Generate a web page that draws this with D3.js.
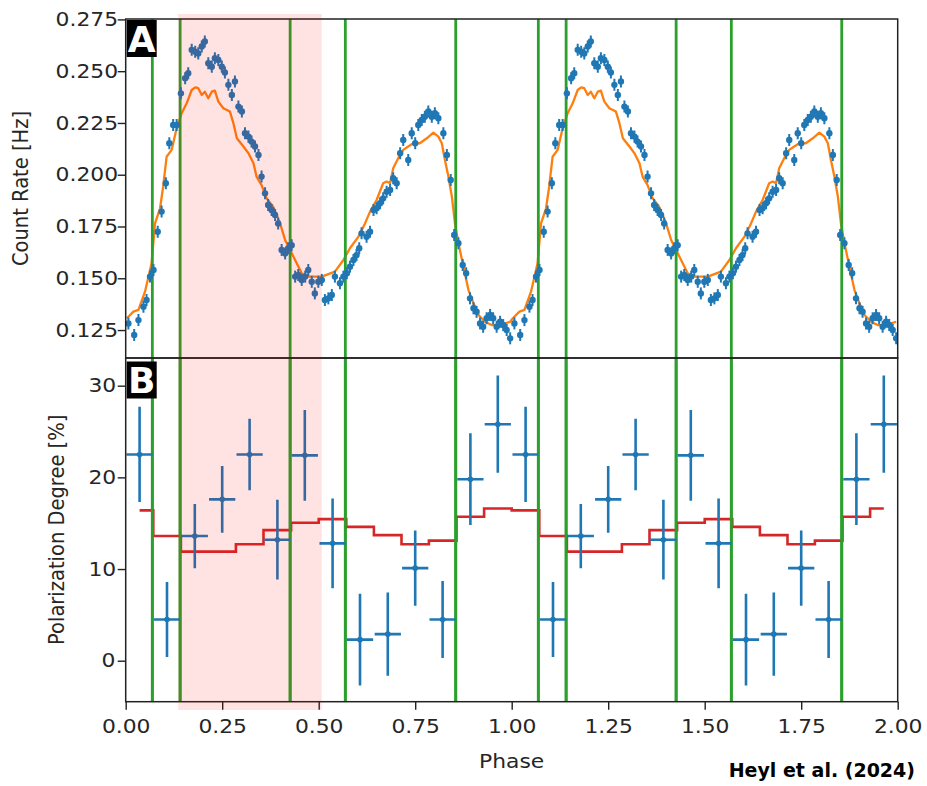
<!DOCTYPE html>
<html>
<head>
<meta charset="utf-8">
<script src="https://cdn.jsdelivr.net/npm/d3@7/dist/d3.min.js"></script>
<style>
  html, body { margin: 0; padding: 0; background: #fff; }
  svg { display: block; }
  text { font-family: "DejaVu Sans", sans-serif; fill: #262626; }
</style>
</head>
<body>
<svg id="chart" width="927" height="786"></svg>
<script>
// ---------- DATA ----------
// Panel A: observed count rate (one phase cycle, plotted twice)
const phaseCR = [0.007,0.022,0.033,0.046,0.054,0.063,0.072,0.083,0.093,0.104,0.113,0.123,0.132,0.143,0.154,0.162,0.171,0.180,0.188,0.197,0.205,0.214,0.223,0.231,0.240,0.249,0.257,0.266,0.275,0.283,0.292,0.301,0.309,0.318,0.326,0.335,0.344,0.352,0.361,0.369,0.378,0.387,0.395,0.404,0.413,0.421,0.430,0.439,0.447,0.456,0.465,0.473,0.482,0.490,0.499,0.508,0.516,0.525,0.534,0.542,0.555,0.564,0.573,0.581,0.590,0.598,0.605,0.611,0.624,0.633,0.642,0.650,0.659,0.667,0.676,0.685,0.693,0.702,0.711,0.719,0.732,0.741,0.750,0.758,0.767,0.775,0.784,0.793,0.801,0.810,0.823,0.832,0.842,0.851,0.862,0.873,0.882,0.892,0.901,0.909,0.918,0.926,0.935,0.944,0.952,0.961,0.970,0.978,0.987,0.996];
const rateCR = [0.1282,0.1226,0.1298,0.1363,0.1395,0.1508,0.1540,0.1725,0.1822,0.1959,0.2152,0.2240,0.2240,0.2393,0.2466,0.2490,0.2603,0.2594,0.2586,0.2619,0.2643,0.2538,0.2522,0.2563,0.2554,0.2522,0.2494,0.2434,0.2385,0.2450,0.2329,0.2305,0.2200,0.2184,0.2160,0.2136,0.2095,0.1991,0.1910,0.1854,0.1830,0.1806,0.1765,0.1637,0.1620,0.1645,0.1660,0.1508,0.1516,0.1492,0.1508,0.1540,0.1483,0.1427,0.1483,0.1492,0.1395,0.1403,0.1419,0.1508,0.1476,0.1508,0.1524,0.1556,0.1588,0.1612,0.1645,0.1717,0.1701,0.1725,0.1830,0.1838,0.1862,0.1886,0.1918,0.1926,0.1983,0.1959,0.2104,0.2168,0.2071,0.2200,0.2152,0.2240,0.2264,0.2280,0.2305,0.2280,0.2297,0.2273,0.2200,0.2095,0.1975,0.1709,0.1669,0.1564,0.1524,0.1403,0.1355,0.1338,0.1282,0.1266,0.1307,0.1323,0.1307,0.1266,0.1290,0.1274,0.1250,0.1210];
// Panel A: model count rate
const phaseModel = [0.003,0.020,0.033,0.050,0.067,0.076,0.089,0.097,0.106,0.119,0.132,0.145,0.158,0.171,0.180,0.188,0.197,0.205,0.214,0.223,0.231,0.240,0.253,0.270,0.279,0.288,0.305,0.318,0.331,0.339,0.352,0.365,0.382,0.400,0.413,0.426,0.443,0.456,0.473,0.490,0.508,0.525,0.542,0.564,0.581,0.603,0.620,0.633,0.650,0.667,0.676,0.685,0.693,0.706,0.719,0.732,0.745,0.762,0.780,0.797,0.810,0.819,0.827,0.836,0.845,0.853,0.862,0.875,0.888,0.901,0.914,0.931,0.948,0.965,0.983,0.996];
const rateModel = [0.1307,0.1339,0.1347,0.1435,0.1572,0.1765,0.1838,0.1942,0.2087,0.2120,0.2224,0.2297,0.2345,0.2409,0.2422,0.2418,0.2385,0.2401,0.2369,0.2401,0.2406,0.2353,0.2321,0.2305,0.2249,0.2176,0.2136,0.2104,0.2055,0.1991,0.1950,0.1886,0.1846,0.1765,0.1685,0.1637,0.1572,0.1524,0.1508,0.1508,0.1508,0.1520,0.1532,0.1588,0.1645,0.1701,0.1765,0.1822,0.1878,0.1959,0.1967,0.1959,0.2031,0.2080,0.2120,0.2136,0.2152,0.2152,0.2176,0.2203,0.2184,0.2152,0.2071,0.1991,0.1894,0.1765,0.1669,0.1556,0.1443,0.1379,0.1323,0.1290,0.1274,0.1274,0.1282,0.1290];
// Panel B: polarization degree per phase bin
const phasePD = [0.036,0.107,0.179,0.250,0.321,0.393,0.464,0.536,0.607,0.679,0.750,0.821,0.893,0.964];
const valuePD = [22.5,4.5,13.6,17.6,22.5,13.2,22.4,12.8,2.3,2.9,10.1,4.5,19.8,25.8];
const errPD   = [5.2,4.1,3.5,3.65,3.9,4.35,4.95,4.9,5.0,4.55,4.1,4.2,5.0,5.3];
const modelPD = [16.4,13.6,11.9,11.9,12.7,14.25,15.05,15.45,14.6,13.7,12.7,13.1,15.7,16.6];
// Vertical markers (phase) and highlighted interval
const greenPhases = [0.069,0.141,0.426,0.569,0.855];
const shadePhases = [0.136,0.508];
const cycles = [0, 1];
const xTicks = [0,0.25,0.5,0.75,1.0,1.25,1.5,1.75,2.0];
const yTicksA = [0.125,0.150,0.175,0.200,0.225,0.250,0.275];
const yTicksB = [0,10,20,30];

// ---------- LAYOUT ----------
const svg = d3.select("#chart");
const L = 125.7, R = 897.7;
const topA = 19, botA = 358, topB = 358, botB = 701.7;
const x = d3.scaleLinear().domain([0,2]).range([L,R]);
const yA = d3.scaleLinear().domain([0.1115,0.2752]).range([botA,topA]);
const yB = d3.scaleLinear().domain([-4.47,33.02]).range([botB,topB]);
const blue = "#1f77b4", orange = "#ff7f0e", green = "#2ca02c", red = "#d62728";
const FS = 19.5, SX = 1.12;

const defs = svg.append("defs");
defs.append("clipPath").attr("id","clipA").append("rect")
  .attr("x",L).attr("y",topA).attr("width",R-L).attr("height",botA-topA);
defs.append("clipPath").attr("id","clipB").append("rect")
  .attr("x",L).attr("y",topB).attr("width",R-L).attr("height",botB-topB);

// expand periodic data over both cycles
const crPts = cycles.flatMap(c => phaseCR.map((p,i) => ({p: p+c, v: rateCR[i]})));
const modPts = cycles.flatMap(c => phaseModel.map((p,i) => ({p: p+c, v: rateModel[i]})));
const pdPts = cycles.flatMap(c => phasePD.map((p,i) => ({p: p+c, v: valuePD[i], e: errPD[i], m: modelPD[i]})));
const greens = cycles.flatMap(c => greenPhases.map(p => p+c));

// ---------- PANEL A ----------
const gA = svg.append("g").attr("clip-path","url(#clipA)");
gA.append("path").datum(modPts)
  .attr("fill","none").attr("stroke",orange).attr("stroke-width",2.3)
  .attr("stroke-linejoin","round")
  .attr("d", d3.line().x(d=>x(d.p)).y(d=>yA(d.v)));
svg.append("g").selectAll("line").data(greens).join("line")
  .attr("x1",d=>x(d)).attr("x2",d=>x(d)).attr("y1",topA).attr("y2",botB)
  .attr("stroke",green).attr("stroke-width",2.8);
const gA2 = svg.append("g").attr("clip-path","url(#clipA)");
const xe = 0.0058, ye = 0.0029;
const crG = gA2.selectAll("g.cr").data(crPts).join("g").attr("class","cr");
crG.append("line").attr("x1",d=>x(d.p-xe)).attr("x2",d=>x(d.p+xe))
  .attr("y1",d=>yA(d.v)).attr("y2",d=>yA(d.v)).attr("stroke",blue).attr("stroke-width",2);
crG.append("line").attr("x1",d=>x(d.p)).attr("x2",d=>x(d.p))
  .attr("y1",d=>yA(d.v-ye)).attr("y2",d=>yA(d.v+ye)).attr("stroke",blue).attr("stroke-width",2);
crG.append("circle").attr("cx",d=>x(d.p)).attr("cy",d=>yA(d.v)).attr("r",3.2).attr("fill",blue);

// ---------- PANEL B ----------
const gB = svg.append("g").attr("clip-path","url(#clipB)");
gB.append("path").datum(pdPts)
  .attr("fill","none").attr("stroke",red).attr("stroke-width",2.6)
  .attr("d", d3.line().curve(d3.curveStep).x(d=>x(d.p)).y(d=>yB(d.m)));
svg.append("g").selectAll("line").data(greens).join("line")
  .attr("x1",d=>x(d)).attr("x2",d=>x(d)).attr("y1",topB).attr("y2",botB)
  .attr("stroke",green).attr("stroke-width",2.8);
const pxe = 0.034;
const pdG = svg.append("g").attr("clip-path","url(#clipB)")
  .selectAll("g.pd").data(pdPts).join("g").attr("class","pd");
pdG.append("line").attr("x1",d=>x(d.p-pxe)).attr("x2",d=>x(d.p+pxe))
  .attr("y1",d=>yB(d.v)).attr("y2",d=>yB(d.v)).attr("stroke",blue).attr("stroke-width",2.6);
pdG.append("line").attr("x1",d=>x(d.p)).attr("x2",d=>x(d.p))
  .attr("y1",d=>yB(d.v-d.e)).attr("y2",d=>yB(d.v+d.e)).attr("stroke",blue).attr("stroke-width",2.6);
pdG.append("circle").attr("cx",d=>x(d.p)).attr("cy",d=>yB(d.v)).attr("r",2.8).attr("fill",blue);

// ---------- AXES ----------
function styleAxis(g) {
  g.select(".domain").remove();
  g.selectAll(".tick line").attr("stroke","#222").attr("stroke-width",1.4);
  g.selectAll(".tick text").attr("font-size",FS).attr("fill","#262626")
    .attr("font-family","DejaVu Sans, sans-serif");
}
const axA = svg.append("g").attr("transform",`translate(${L},0)`)
  .call(d3.axisLeft(yA).tickValues(yTicksA).tickFormat(d3.format(".3f")).tickSizeOuter(0).tickSize(8).tickPadding(3));
styleAxis(axA);
const axB = svg.append("g").attr("transform",`translate(${L},0)`)
  .call(d3.axisLeft(yB).tickValues(yTicksB).tickFormat(d3.format("d")).tickSizeOuter(0).tickSize(8).tickPadding(3));
styleAxis(axB);
const axX = svg.append("g").attr("transform",`translate(0,${botB})`)
  .call(d3.axisBottom(x).tickValues(xTicks).tickFormat(d3.format(".2f")).tickSizeOuter(0).tickSize(8).tickPadding(9));
styleAxis(axX);
// horizontal stretch of tick labels
svg.selectAll(".tick text").each(function() {
  const t = d3.select(this);
  const b = this.getBBox();
  const anchor = t.attr("text-anchor") || "middle";
  const ax = anchor === "end" ? b.x + b.width : b.x + b.width/2;
  t.attr("transform", `translate(${ax*(1-SX)},0) scale(${SX},1)`);
});

// frames
[[topA,botA],[topB,botB]].forEach(([t,b]) => {
  svg.append("rect").attr("x",L).attr("y",t).attr("width",R-L).attr("height",b-t)
    .attr("fill","none").attr("stroke","#222").attr("stroke-width",1.5);
});

// axis labels
svg.append("text").attr("transform",`translate(28,${(topA+botA)/2}) scale(${SX},1) rotate(-90)`)
  .attr("text-anchor","middle").attr("font-size",FS).text("Count Rate [Hz]");
svg.append("text").attr("transform",`translate(64,${(topB+botB)/2}) scale(${SX},1) rotate(-90)`)
  .attr("text-anchor","middle").attr("font-size",FS).text("Polarization Degree [%]");
svg.append("text").attr("transform",`translate(${(L+R)/2},768) scale(${SX},1)`)
  .attr("text-anchor","middle").attr("font-size",FS).text("Phase");

// panel letters
[["A",topA+1],["B",topB+3.5]].forEach(([s,t]) => {
  svg.append("rect").attr("x",L+1).attr("y",t).attr("width",30).attr("height",37).attr("fill","#000");
  svg.append("text").attr("x",L+16).attr("y",t+31.5).attr("text-anchor","middle")
    .attr("font-size",36).attr("font-weight","bold").style("fill","#fff").text(s);
});

// highlighted phase interval (overlay)
svg.append("rect").attr("x",x(shadePhases[0])).attr("y",14)
  .attr("width",x(shadePhases[1])-x(shadePhases[0])).attr("height",710-14)
  .attr("fill","rgba(255,0,0,0.11)");

// citation
svg.append("text").attr("x",915).attr("y",777).attr("text-anchor","end")
  .attr("font-family","Liberation Sans, Arial, sans-serif").attr("font-weight","bold")
  .attr("font-size",19).style("fill","#000").text("Heyl et al. (2024)");
</script>
</body>
</html>
